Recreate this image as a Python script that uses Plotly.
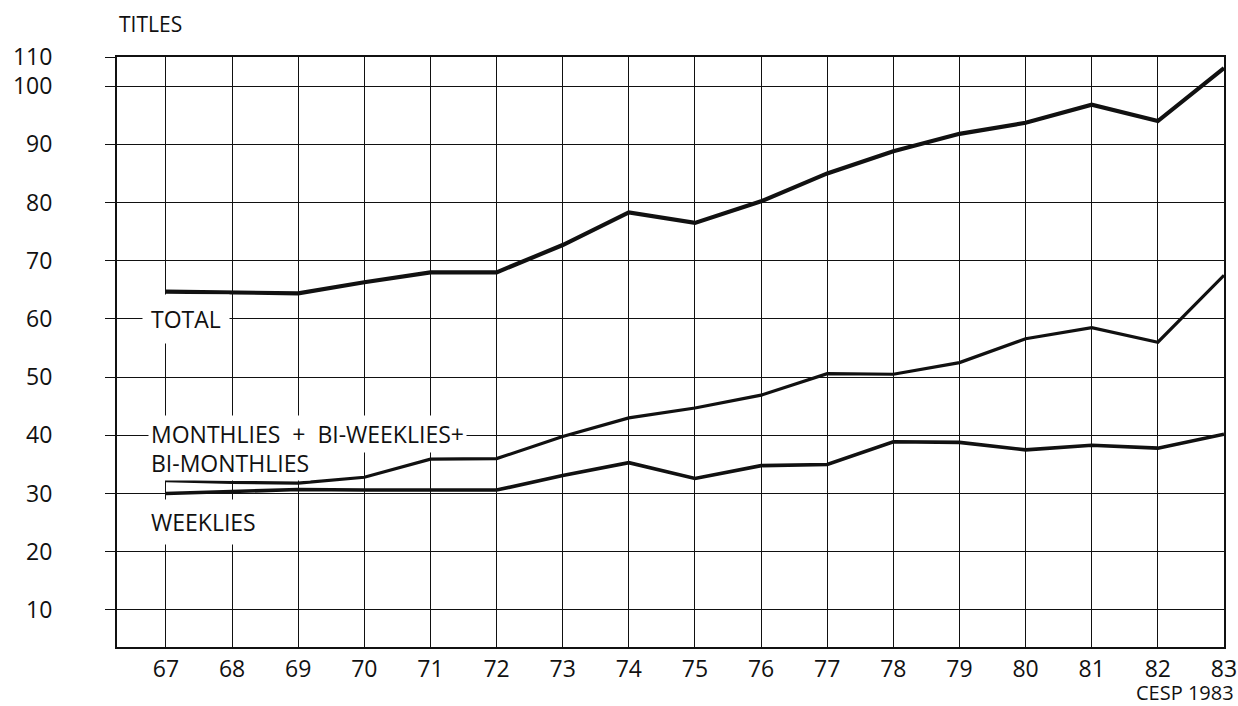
import plotly.graph_objects as go

years = [67, 68, 69, 70, 71, 72, 73, 74, 75, 76, 77, 78, 79, 80, 81, 82, 83]
total = [64.7, 64.5, 64.4, 66.3, 68.0, 68.0, 72.7, 78.3, 76.5, 80.2, 85.0, 88.8, 91.8, 93.7, 96.8, 94.0, 103.1]
monthlies = [32.2, 31.9, 31.8, 32.8, 35.9, 36.0, 39.8, 43.0, 44.7, 46.9, 50.6, 50.5, 52.5, 56.6, 58.5, 56.0, 67.5]
weeklies = [30.0, 30.3, 30.7, 30.6, 30.6, 30.6, 33.1, 35.3, 32.6, 34.8, 35.0, 38.9, 38.8, 37.5, 38.3, 37.8, 40.2]

y_tickvals = [10, 20, 30, 40, 50, 60, 70, 80, 90, 100, 105]
y_ticktext = ["10", "20", "30", "40", "50", "60", "70", "80", "90", "100", "110"]
x_ticktext = [str(y) for y in years]

FONT = "Open Sans"
INK = "#111111"

fig = go.Figure()
fig.add_trace(go.Scatter(x=years, y=total, mode="lines", name="TOTAL",
                         line=dict(color=INK, width=4.2)))
fig.add_trace(go.Scatter(x=years, y=monthlies, mode="lines",
                         name="MONTHLIES + BI-WEEKLIES + BI-MONTHLIES",
                         line=dict(color=INK, width=3.2)))
fig.add_trace(go.Scatter(x=years, y=weeklies, mode="lines", name="WEEKLIES",
                         line=dict(color=INK, width=3.6)))

label_font = dict(family=FONT, size=23, color=INK)

fig.add_annotation(x=66.64, y=60, xref="x", yref="y", text="TOTAL",
                   showarrow=False, xanchor="left", yanchor="middle",
                   font=label_font, bgcolor="white", borderpad=8)
fig.add_annotation(x=66.73, y=40.3, xref="x", yref="y",
                   text="MONTHLIES  +  BI-WEEKLIES+",
                   showarrow=False, xanchor="left", yanchor="middle",
                   font=label_font, bgcolor="white", borderpad=2)
fig.add_annotation(x=66.74, y=35.3, xref="x", yref="y", text="BI-MONTHLIES",
                   showarrow=False, xanchor="left", yanchor="middle",
                   font=label_font, bgcolor="white", borderpad=1)
fig.add_annotation(x=66.67, y=25.2, xref="x", yref="y", text="WEEKLIES",
                   showarrow=False, xanchor="left", yanchor="middle",
                   font=label_font, bgcolor="white", borderpad=6)

fig.add_annotation(x=0, y=1, xref="paper", yref="paper", text="TITLES",
                   showarrow=False, xanchor="left", yanchor="bottom", yshift=17,
                   font=dict(family=FONT, size=21, color=INK))
fig.add_annotation(x=1, y=0, xref="paper", yref="paper", text="CESP 1983",
                   showarrow=False, xanchor="right", yanchor="top", yshift=-31,
                   xshift=11, borderpad=0, font=dict(family=FONT, size=20, color=INK))

fig.update_xaxes(range=[66.26, 83], tickvals=years, ticktext=x_ticktext,
                 showgrid=True, gridcolor=INK, gridwidth=1.3,
                 showline=True, linecolor=INK, linewidth=2, mirror=True,
                 ticks="", ticklabelstandoff=0, zeroline=False, automargin=False,
                 tickfont=dict(family=FONT, size=23, color=INK))
fig.update_yaxes(range=[3.64, 105], tickvals=y_tickvals, ticktext=y_ticktext,
                 showgrid=True, gridcolor=INK, gridwidth=1.1,
                 showline=True, linecolor=INK, linewidth=2, mirror=True,
                 ticks="outside", ticklen=10, tickcolor=INK, tickwidth=1.3,
                 ticklabelstandoff=48, zeroline=False, automargin=False,
                 tickfont=dict(family=FONT, size=23, color=INK))

fig.update_layout(width=1238, height=706, showlegend=False,
                  margin=dict(l=117, r=14, t=57, b=59),
                  plot_bgcolor="white", paper_bgcolor="white")

fig.write_html("out.html", config={"displayModeBar": False},
               post_script="document.body.style.margin='0';document.body.style.overflow='hidden';")
